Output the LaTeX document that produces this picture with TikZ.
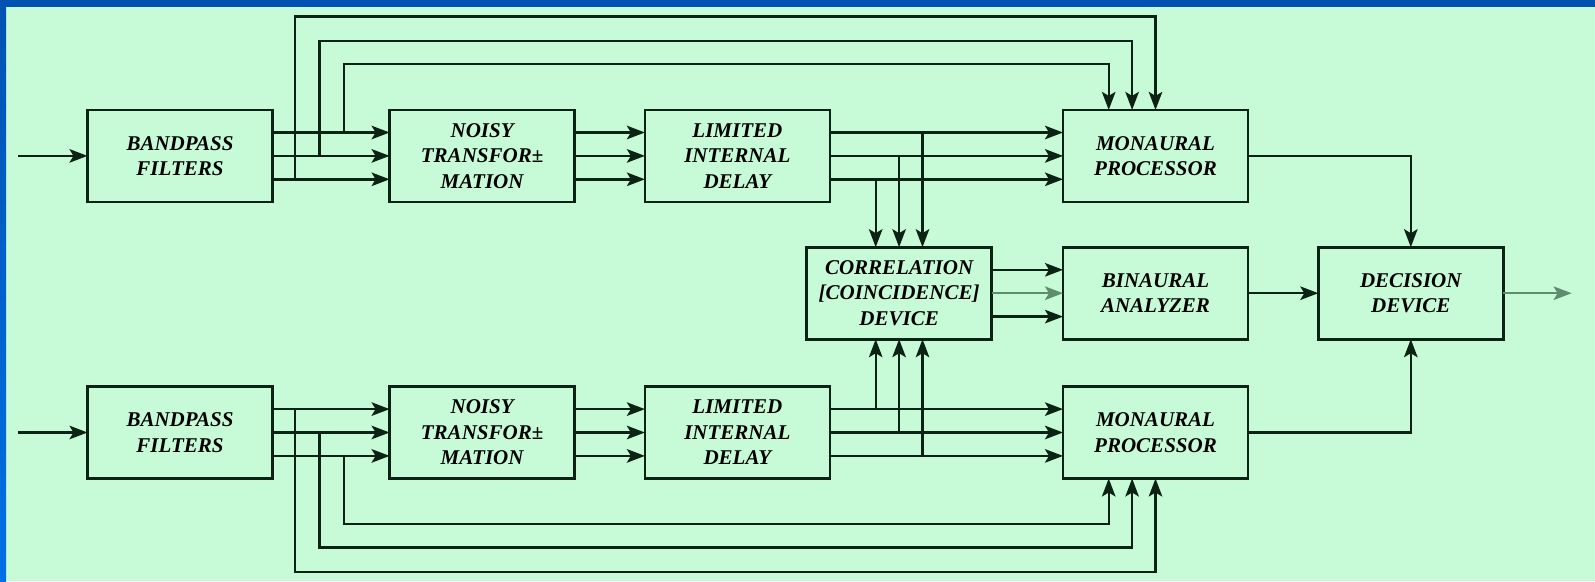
\documentclass[tikz,border=0pt]{standalone}
\usepackage{fontspec}
\setmainfont{Liberation Serif}
\usetikzlibrary{arrows.meta,calc}
\definecolor{bgc}{RGB}{199,250,214}
\definecolor{topblue}{RGB}{0,82,178}
\definecolor{leftblue}{RGB}{0,112,230}
\definecolor{ink}{RGB}{12,34,20}
\definecolor{pale}{RGB}{95,140,110}
\tikzset{
  box/.style={draw=ink, line width=2.6pt, minimum width=185pt, minimum height=92pt,
    inner sep=0pt, outer sep=0pt, align=center, anchor=north west,
    font=\fontsize{21}{25.5}\selectfont\bfseries\itshape},
  ln/.style={draw=ink, line width=2.4pt},
  arr/.style={ln, -{Stealth[length=18pt,width=13.5pt,inset=4pt]}},
  palearr/.style={arr, draw=pale}
}
\begin{document}
\begin{tikzpicture}[x=1pt,y=-1pt]
% background
\fill[bgc] (0,0) rectangle (1595,581);
\fill[topblue] (0,0) rectangle (1595,7);
\shade[top color=topblue, bottom color=leftblue] (0,0) rectangle (6,581);
\useasboundingbox (0,0) rectangle (1595,581);

% boxes
\node[box] (bp1) at (87.5,109.9) {BANDPASS\\FILTERS};
\node[box] (ns1) at (389.6,109.9) {NOISY\\TRANSFOR±\\MATION};
\node[box] (ld1) at (644.9,109.9) {LIMITED\\INTERNAL\\DELAY};
\node[box] (mn1) at (1063,109.9) {MONAURAL\\PROCESSOR};
\node[box] (cr) at (806.6,247.2) {CORRELATION\\{[COINCIDENCE]}\\DEVICE};
\node[box] (bn) at (1063,247.2) {BINAURAL\\ANALYZER};
\node[box] (dd) at (1318.3,247.2) {DECISION\\DEVICE};
\node[box] (bp2) at (87.5,386.5) {BANDPASS\\FILTERS};
\node[box] (ns2) at (389.6,386.5) {NOISY\\TRANSFOR±\\MATION};
\node[box] (ld2) at (644.9,386.5) {LIMITED\\INTERNAL\\DELAY};
\node[box] (mn2) at (1063,386.5) {MONAURAL\\PROCESSOR};

% ports
\foreach \n in {bp1,ns1,ld1,mn1,bp2,ns2,ld2,mn2,cr,bn}{
  \coordinate (\n o1) at ([yshift=23.4]\n.east);
  \coordinate (\n o2) at (\n.east);
  \coordinate (\n o3) at ([yshift=-23.4]\n.east);
  \coordinate (\n i1) at ([yshift=23.4]\n.west);
  \coordinate (\n i2) at (\n.west);
  \coordinate (\n i3) at ([yshift=-23.4]\n.west);
}
\coordinate (crt1) at ([xshift=-23.4]cr.north);
\coordinate (crt2) at (cr.north);
\coordinate (crt3) at ([xshift=23.4]cr.north);
\coordinate (crb1) at ([xshift=-23.4]cr.south);
\coordinate (crb2) at (cr.south);
\coordinate (crb3) at ([xshift=23.4]cr.south);
\coordinate (in1) at (18.3,155.9);
\coordinate (in2) at (18.3,432.5);
\coordinate (out) at (1571.6,293.2);
\coordinate (tb1) at (295,16.3);
\coordinate (tb2) at (319.4,40.7);
\coordinate (tb3) at (343.8,64.1);
\coordinate (bb1) at (295,571.7);
\coordinate (bb2) at (319.4,547.3);
\coordinate (bb3) at (343.8,523.9);

% inputs
\draw[arr] (in1) -- (bp1.west);
\draw[arr] (in2) -- (bp2.west);

% channel connections
\foreach \i in {1,2,3}{
  \draw[arr] (bp1o\i) -- (ns1i\i);
  \draw[arr] (ns1o\i) -- (ld1i\i);
  \draw[arr] (ld1o\i) -- (mn1i\i);
  \draw[arr] (bp2o\i) -- (ns2i\i);
  \draw[arr] (ns2o\i) -- (ld2i\i);
  \draw[arr] (ld2o\i) -- (mn2i\i);
}
\draw[arr] (cro1) -- (bni1);
\draw[palearr] (cro2) -- (bni2);
\draw[arr] (cro3) -- (bni3);

% top bus
\draw[arr] (bp1o3 -| tb1) -- (tb1) -| (mn1.north);
\draw[arr] (bp1o2 -| tb2) -- (tb2) -| ([xshift=-23.4]mn1.north);
\draw[arr] (bp1o1 -| tb3) -- (tb3) -| ([xshift=-46.8]mn1.north);
% bottom bus
\draw[arr] (bp2o1 -| bb1) -- (bb1) -| (mn2.south);
\draw[arr] (bp2o2 -| bb2) -- (bb2) -| ([xshift=-23.4]mn2.south);
\draw[arr] (bp2o3 -| bb3) -- (bb3) -| ([xshift=-46.8]mn2.south);

% correlation inputs
\draw[arr] (ld1o3 -| crt1) -- (crt1);
\draw[arr] (ld1o2 -| crt2) -- (crt2);
\draw[arr] (ld1o1 -| crt3) -- (crt3);
\draw[arr] (ld2o1 -| crb1) -- (crb1);
\draw[arr] (ld2o2 -| crb2) -- (crb2);
\draw[arr] (ld2o3 -| crb3) -- (crb3);

% decision
\draw[arr] (mn1.east) -| (dd.north);
\draw[arr] (mn2.east) -| (dd.south);
\draw[arr] (bn.east) -- (dd.west);
\draw[palearr] (dd.east) -- (out);
\end{tikzpicture}
\end{document}
